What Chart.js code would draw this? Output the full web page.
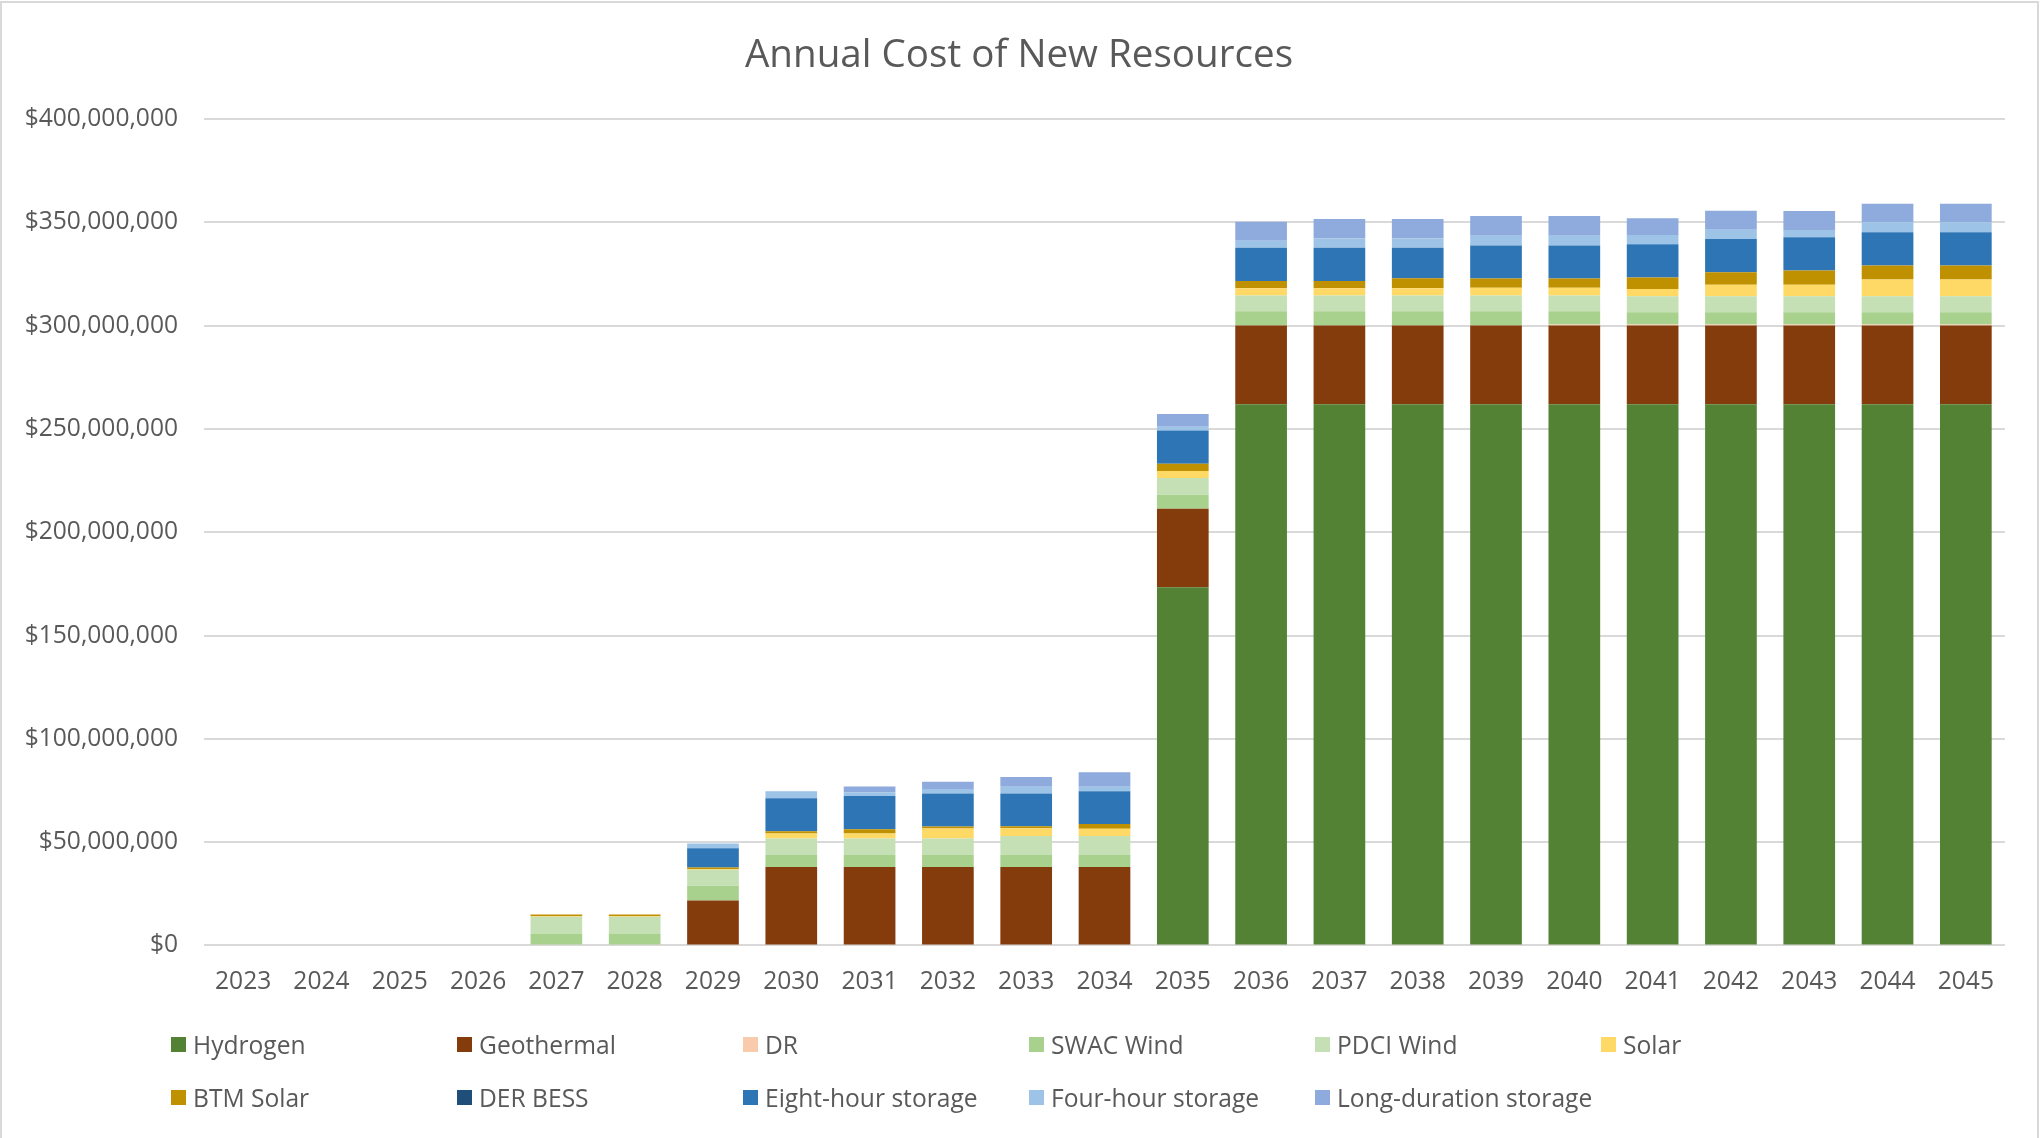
<!DOCTYPE html>
<html>
<head>
<meta charset="utf-8">
<title>Annual Cost of New Resources</title>
<script src="https://cdn.jsdelivr.net/npm/chart.js@4/dist/chart.umd.min.js"></script>
<style>
  html, body { margin: 0; padding: 0; background: #fff; overflow: hidden; }
  #wrap { position: relative; width: 2041px; height: 1138px; }
  #frame { position: absolute; left: 0; top: 1px; width: 2035px; height: 1150px; border: 2px solid #d9d9d9; box-sizing: content-box; pointer-events: none; }
  #title { position: absolute; left: 519px; top: 29px; width: 1000px; text-align: center; line-height: 46px;
           font-family: "Open Sans", sans-serif; font-size: 38.6px; color: #595959; }
  #legend { position: absolute; left: 171px; top: 1018px; display: grid; grid-template-columns: repeat(6, 286px); grid-auto-rows: 53px;
            font-family: "Open Sans", sans-serif; font-size: 24.6px; color: #595959; }
  .item { display: flex; align-items: center; white-space: nowrap; }
  .box { width: 15px; height: 15px; margin-right: 7px; flex: none; }
</style>
</head>
<body>
<div id="wrap">
  <canvas id="canvas" width="2041" height="1138"></canvas>
  <div id="title">Annual Cost of New Resources</div>
  <div id="legend"></div>
  <div id="frame"></div>
</div>
<script>
// values in millions of dollars
const years = ['2023','2024','2025','2026','2027','2028','2029','2030','2031','2032','2033','2034',
               '2035','2036','2037','2038','2039','2040','2041','2042','2043','2044','2045'];

const hydrogen   = [0,0,0,0,0,0,0,0,0,0,0,0,173.4,262,262,262,262,262,262,262,262,262,262];
const geothermal = [0,0,0,0,0,0,21.8,38,38,38,38,38,38,38,38,38,38,38,38,38,38,38,38];
const dr         = [0,0,0,0,0,0,0,0,0,0,0,0,0,0,0,0,0,0.5,0.5,0.5,0.5,0.5,0.5];
const swacWind   = [0,0,0,0,5.8,5.8,7.1,5.8,5.8,5.8,5.8,5.8,6.8,6.9,6.9,6.9,6.9,6.4,6.0,6.0,6.0,6.0,6.0];
const pdciWind   = [0,0,0,0,8.1,8.1,7.7,8.0,8.0,8.0,9.2,9.2,8.0,7.7,7.7,7.7,7.7,7.7,7.7,7.7,7.7,7.7,7.7];
const solar      = [0,0,0,0,0.3,0.3,0.4,2.4,2.4,4.8,3.7,3.5,3.4,3.5,3.5,3.5,3.7,3.7,3.5,5.6,5.6,8.1,8.1];
const btmSolar   = [0,0,0,0,0.8,0.8,0.8,1.1,2.1,1.0,1.0,2.3,3.5,3.5,3.5,4.8,4.5,4.5,5.6,6.0,6.9,6.8,6.8];
const derBess    = [0,0,0,0,0,0,0,0,0,0,0,0,0,0,0,0,0,0,0,0,0,0,0];
const eightHour  = [0,0,0,0,0,0,9.2,16.0,16.0,15.9,15.9,15.9,16.1,16.1,16.1,14.8,16.0,16.0,16.1,16.1,16.1,16.1,16.1];
const fourHour   = [0,0,0,0,0,0,2.3,3.4,1.9,2.2,3.2,2.1,1.9,3.4,4.5,4.5,4.7,4.7,4.5,4.5,3.5,4.8,4.8];
const longDur    = [0,0,0,0,0,0,0,0,2.7,3.5,4.8,7.1,6.1,9.2,9.4,9.4,9.5,9.5,8.1,9.2,9.2,9.0,9.0];

const yTicks = [0, 50e6, 100e6, 150e6, 200e6, 250e6, 300e6, 350e6, 400e6];

const series = [
  ['Hydrogen', hydrogen, '#548235'],
  ['Geothermal', geothermal, '#843c0c'],
  ['DR', dr, '#f8cbad'],
  ['SWAC Wind', swacWind, '#a9d18e'],
  ['PDCI Wind', pdciWind, '#c5e0b4'],
  ['Solar', solar, '#ffd966'],
  ['BTM Solar', btmSolar, '#bf9000'],
  ['DER BESS', derBess, '#1f4e79'],
  ['Eight-hour storage', eightHour, '#2e75b6'],
  ['Four-hour storage', fourHour, '#9dc3e6'],
  ['Long-duration storage', longDur, '#8faadc']
];

const grey = '#595959';
const font = '"Open Sans", sans-serif';

const datasets = series.map(function(s) {
  return {
    label: s[0],
    data: s[1].map(function(v) { return v * 1e6; }),
    backgroundColor: s[2],
    borderWidth: 0,
    barPercentage: 0.66,
    categoryPercentage: 1.0
  };
});

const ctx = document.getElementById('canvas').getContext('2d');
const chart = new Chart(ctx, {
  type: 'bar',
  data: { labels: years, datasets: datasets },
  options: {
    responsive: false,
    animation: false,
    devicePixelRatio: 1,
    layout: { padding: { left: 0, right: 36, top: 119, bottom: 119 } },
    plugins: {
      legend: { display: false },
      tooltip: { enabled: false },
      title: { display: false }
    },
    scales: {
      x: {
        stacked: true,
        grid: { display: false, drawTicks: false },
        border: { display: false },
        ticks: { color: grey, font: { family: font, size: 24.6 }, padding: 22, maxRotation: 0 }
      },
      y: {
        stacked: true,
        min: 0,
        max: 400e6,
        afterFit: function(scale) { scale.width = 204; },
        afterBuildTicks: function(scale) { scale.ticks = yTicks.map(function(v) { return { value: v }; }); },
        grid: { color: '#d9d9d9', lineWidth: 2, drawTicks: false },
        border: { display: false },
        ticks: {
          color: grey,
          font: { family: font, size: 24.6 },
          padding: 26,
          callback: function(v) { return '$' + Number(v).toLocaleString('en-US'); }
        }
      }
    }
  }
});

// legend laid out in fixed columns like the original
const legendEl = document.getElementById('legend');
chart.data.datasets.forEach(function(ds) {
  const item = document.createElement('div');
  item.className = 'item';
  const box = document.createElement('span');
  box.className = 'box';
  box.style.background = ds.backgroundColor;
  const txt = document.createElement('span');
  txt.textContent = ds.label;
  item.appendChild(box);
  item.appendChild(txt);
  legendEl.appendChild(item);
});
</script>
</body>
</html>
